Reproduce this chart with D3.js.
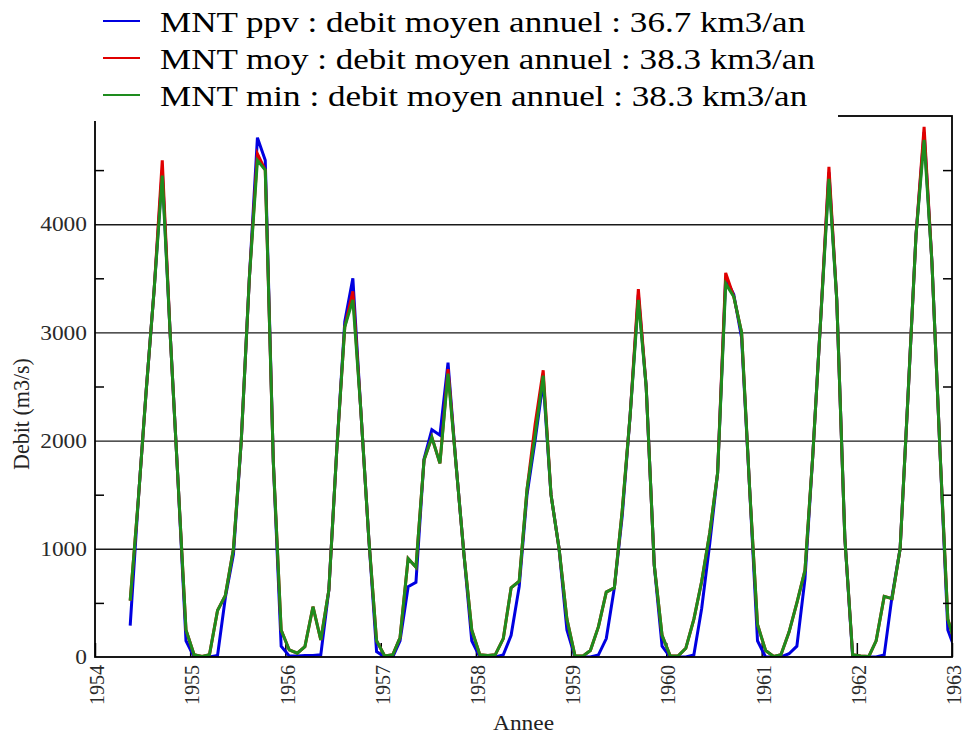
<!DOCTYPE html>
<html>
<head>
<meta charset="utf-8">
<script src="https://cdn.jsdelivr.net/npm/d3@7"></script>
<style>
  body { margin: 0; background: #fff; }
  svg { display: block; }
  text { font-family: "Liberation Serif", "DejaVu Serif", serif; }
</style>
</head>
<body>
<svg id="chart" width="964" height="738"></svg>
<script>
// Monthly mean discharge (m3/s), May 1954 to January 1963, for three DEM variants
const firstMonth = [1954, 4];   // year, zero-based month
const lastMonth = [1963, 0];

const debitPpv = [
  290, 1450, 2450, 3400, 4500, 3000, 1600, 150,
  0, 0, 0, 15, 550, 950, 2000, 3500, 4800, 4590, 1800, 100,
  10, 10, 15, 15, 20, 620, 1900, 3100, 3500, 2300, 1100, 50,
  0, 0, 150, 650, 690, 1830, 2100, 2050, 2720, 1800, 950, 150,
  0, 0, 0, 20, 200, 650, 1500, 2000, 2550, 1500, 1000, 250,
  0, 0, 0, 20, 170, 640, 1300, 2250, 3350, 2500, 850, 100,
  0, 0, 0, 20, 450, 1050, 1700, 3500, 3350, 2950, 1550, 150,
  0, 0, 0, 30, 100, 720, 1860, 3150, 4480, 3300, 1100, 0,
  0, 0, 0, 20, 560, 1000, 2400, 3900, 4850, 3650, 1900, 250,
  50
];
const debitMoy = [
  520, 1450, 2450, 3400, 4590, 3000, 1600, 250,
  20, 5, 20, 430, 570, 1000, 2000, 3500, 4650, 4500, 1800, 250,
  65, 35, 95, 465, 157, 620, 1900, 3050, 3380, 2300, 1100, 150,
  10, 20, 180, 910, 830, 1820, 2030, 1790, 2660, 1800, 950, 250,
  20, 15, 20, 170, 640, 700, 1550, 2150, 2650, 1500, 1000, 350,
  10, 10, 60, 280, 600, 640, 1350, 2250, 3400, 2500, 850, 200,
  10, 10, 80, 350, 700, 1150, 1700, 3550, 3330, 3000, 1550, 300,
  60, 5, 20, 230, 500, 800, 1860, 3150, 4530, 3300, 1100, 20,
  10, 5, 150, 560, 540, 1000, 2400, 3900, 4900, 3650, 1900, 350,
  100
];
const debitMin = [
  520, 1450, 2450, 3400, 4450, 3000, 1600, 250,
  20, 5, 20, 430, 570, 1000, 2000, 3500, 4590, 4500, 1800, 250,
  65, 35, 95, 465, 157, 620, 1900, 3050, 3300, 2300, 1100, 150,
  10, 20, 180, 910, 830, 1820, 2030, 1790, 2620, 1800, 950, 250,
  20, 15, 20, 170, 640, 700, 1550, 2050, 2600, 1500, 1000, 350,
  10, 10, 60, 280, 600, 640, 1350, 2250, 3300, 2500, 850, 200,
  10, 10, 80, 350, 700, 1150, 1700, 3450, 3330, 3000, 1550, 300,
  60, 5, 20, 230, 500, 800, 1860, 3150, 4420, 3300, 1100, 20,
  10, 5, 150, 560, 540, 1000, 2400, 3900, 4780, 3650, 1900, 350,
  100
];

const seriesNames = ["MNT ppv", "MNT moy", "MNT min"];
const annualMeans = ["36.7", "38.3", "38.3"];
const seriesColors = ["#0000e0", "#e00000", "#1e8c1e"];

const yearTicks = [1954, 1955, 1956, 1957, 1958, 1959, 1960, 1961, 1962, 1963];
const yMajorTicks = [0, 1000, 2000, 3000, 4000];
const yGridTicks = [1000, 2000, 3000, 4000];
const yMinorTicks = [500, 1500, 2500, 3500, 4500];

const xLabel = "Annee";
const yLabel = "Debit (m3/s)";

// ---- layout ----
const W = 964, H = 738;
const plot = { left: 95, right: 952, top: 116, bottom: 657 };
const sx = 1.17;   // horizontal stretch of the lettering

const svg = d3.select("#chart");

const months = d3.utcMonth.range(
  new Date(Date.UTC(firstMonth[0], firstMonth[1], 1)),
  new Date(Date.UTC(lastMonth[0], lastMonth[1] + 1, 1))
);
const midMonth = months.map(m => d3.utcDay.offset(m, 15));

const x = d3.scaleUtc()
  .domain([new Date(Date.UTC(yearTicks[0], 0, 1)), new Date(Date.UTC(yearTicks[yearTicks.length - 1], 0, 1))])
  .range([plot.left, plot.right]);
const y = d3.scaleLinear().domain([0, 5000]).range([plot.bottom, plot.top]);

const yearDates = yearTicks.map(yr => new Date(Date.UTC(yr, 0, 1)));

svg.append("defs").append("clipPath").attr("id", "plotClip")
  .append("rect")
  .attr("x", plot.left).attr("y", plot.top)
  .attr("width", plot.right - plot.left).attr("height", plot.bottom - plot.top);

// horizontal grid lines at the thousands
svg.append("g")
  .attr("transform", `translate(${plot.left},0)`)
  .call(d3.axisLeft(y).tickValues(yGridTicks).tickSize(-(plot.right - plot.left)).tickFormat(""))
  .call(g => g.select(".domain").remove())
  .call(g => g.selectAll(".tick line").attr("stroke", "#1a1a1a").attr("stroke-width", 1.4));

// inward year ticks along the bottom
svg.append("g")
  .attr("transform", `translate(0,${plot.bottom})`)
  .call(d3.axisBottom(x).tickValues(yearDates).tickSize(-14).tickFormat(""))
  .call(g => g.select(".domain").remove())
  .call(g => g.selectAll(".tick line").attr("stroke", "#000").attr("stroke-width", 1.5));

// discharge curves
const seriesValues = [debitPpv, debitMoy, debitMin];
const line = d3.line()
  .x((d, i) => x(midMonth[i]))
  .y(d => y(d));

svg.append("g").attr("clip-path", "url(#plotClip)")
  .selectAll("path")
  .data(seriesValues)
  .join("path")
  .attr("fill", "none")
  .attr("stroke", (d, i) => seriesColors[i])
  .attr("stroke-width", 3)
  .attr("stroke-linejoin", "miter")
  .attr("d", d => line(d));

// frame
svg.append("rect")
  .attr("x", plot.left).attr("y", plot.top)
  .attr("width", plot.right - plot.left).attr("height", plot.bottom - plot.top)
  .attr("fill", "none").attr("stroke", "#000").attr("stroke-width", 1.8);

// minor ticks on both sides
svg.append("g")
  .attr("transform", `translate(${plot.left},0)`)
  .call(d3.axisLeft(y).tickValues(yMinorTicks).tickSize(-9).tickFormat(""))
  .call(g => g.select(".domain").remove())
  .call(g => g.selectAll(".tick line").attr("stroke", "#000").attr("stroke-width", 1.5));
svg.append("g")
  .attr("transform", `translate(${plot.right},0)`)
  .call(d3.axisRight(y).tickValues(yMinorTicks).tickSize(-9).tickFormat(""))
  .call(g => g.select(".domain").remove())
  .call(g => g.selectAll(".tick line").attr("stroke", "#000").attr("stroke-width", 1.5));

// y tick labels
svg.append("g")
  .attr("transform", `translate(${plot.left},0)`)
  .call(d3.axisLeft(y).tickValues(yMajorTicks).tickSize(0).tickFormat(d3.format("d")))
  .call(g => g.select(".domain").remove())
  .call(g => g.selectAll(".tick text")
    .attr("x", 0).attr("dy", "0.33em")
    .attr("transform", `translate(-8,0) scale(${sx},1)`)
    .attr("fill", "#2a2a2a")
    .style("font-size", "20px")
    .style("font-family", "'Liberation Serif', serif")
    .style("text-anchor", "end"));

// x tick labels, written upward
svg.append("g")
  .attr("transform", `translate(0,${plot.bottom})`)
  .call(d3.axisBottom(x).tickValues(yearDates).tickSize(0).tickFormat(d3.utcFormat("%Y")))
  .call(g => g.select(".domain").remove())
  .call(g => g.selectAll(".tick text")
    .attr("x", 0).attr("y", 0).attr("dy", "0.35em")
    .attr("transform", `translate(1,8) scale(1.1,1) rotate(-90)`)
    .attr("fill", "#2a2a2a")
    .style("font-size", "20px")
    .style("font-family", "'Liberation Serif', serif")
    .style("text-anchor", "end"));

// axis titles
svg.append("text")
  .attr("transform", `translate(${(plot.left + plot.right) / 2},730) scale(${sx},1)`)
  .attr("text-anchor", "middle")
  .style("font-size", "20px")
  .attr("fill", "#222")
  .text(xLabel);

svg.append("text")
  .attr("transform", `translate(28.5,414) scale(1.05,1) rotate(-90)`)
  .attr("text-anchor", "middle")
  .style("font-size", "22px")
  .attr("fill", "#222")
  .text(yLabel);

// legend panel
svg.append("rect")
  .attr("x", 0).attr("y", 0).attr("width", 838).attr("height", 121)
  .attr("fill", "#fff");

const legend = svg.append("g");
const rowY = [21, 58, 95];
seriesNames.forEach((name, i) => {
  legend.append("line")
    .attr("x1", 103).attr("x2", 140)
    .attr("y1", rowY[i]).attr("y2", rowY[i])
    .attr("stroke", seriesColors[i]).attr("stroke-width", 2);
  legend.append("text")
    .attr("transform", `translate(160,${rowY[i] + 11}) scale(${sx},1)`)
    .style("font-size", "30px")
    .attr("fill", "#000")
    .text(`${name} : debit moyen annuel : ${annualMeans[i]} km3/an`);
});
</script>
</body>
</html>
